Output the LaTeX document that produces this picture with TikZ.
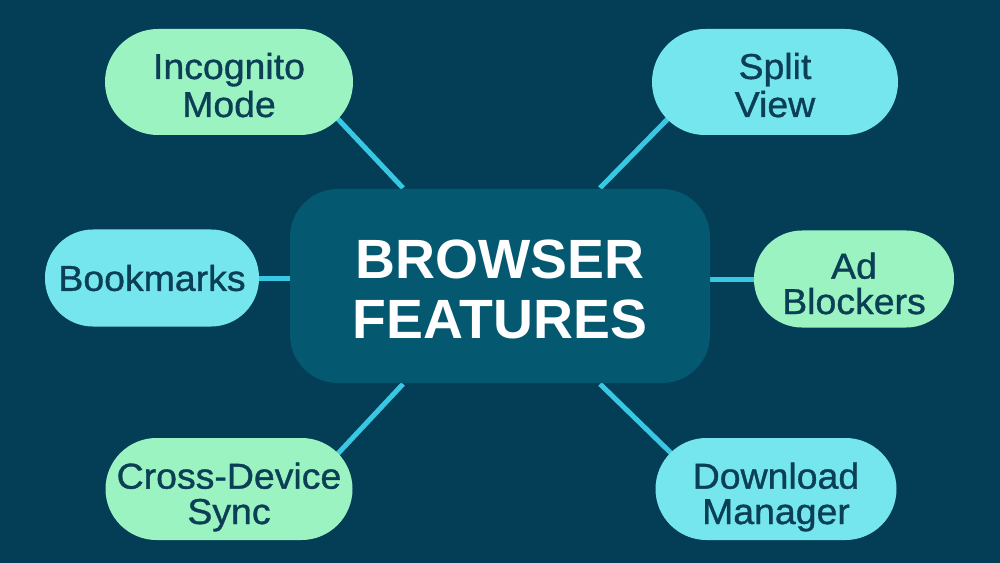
\documentclass[tikz,border=0pt]{standalone}
\usepackage{fontspec}
\setmainfont{Liberation Sans}
\newfontfamily\fntBox[FakeBold=1, FakeStretch=1.04]{Liberation Sans}
\usetikzlibrary{positioning,backgrounds}
\definecolor{clrFond}{HTML}{033E56}
\definecolor{clrCentre}{HTML}{04586F}
\definecolor{clrVert}{HTML}{9CF3C2}
\definecolor{clrCyan}{HTML}{76E6EE}
\definecolor{clrLien}{HTML}{38C8E4}
\definecolor{clrTexte}{HTML}{0B3F55}
\newlength{\unit}
\setlength{\unit}{0.75pt}
\tikzstyle{box_style}=[anchor=center, align=center, text=clrTexte, font=\fontsize{27}{28.5}\fntBox, inner sep=0pt]
\tikzstyle{vert}=[box_style, fill=clrVert]
\tikzstyle{cyan_box}=[box_style, fill=clrCyan]
\tikzstyle{two_lines}=[text height=70\unit, text depth=0pt]
\tikzstyle{tight}=[font=\fontsize{27}{26.5}\fntBox]
\tikzstyle{central}=[fill=clrCentre, rounded corners=48\unit, anchor=center, align=center, text=white, font=\fontsize{41.5}{44.5}\selectfont\bfseries, minimum width=420\unit, minimum height=194\unit, inner sep=0pt, text height=104\unit, text depth=0pt]
\tikzstyle{line}=[clrLien, line width=3.75pt]
\tikzstyle{diag}=[line, shorten >=-26\unit]
\begin{document}
\begin{tikzpicture}[x=\unit, y=-\unit]
	\useasboundingbox (0,0) rectangle (1000,563);

	\node[central] (C) at (500,286) {BROWSER\\FEATURES};

	\node[vert, two_lines, minimum width=248\unit, minimum height=106\unit, rounded corners=53\unit] (A) at (229,82) {Incognito\\Mode};
	\node[cyan_box, two_lines, minimum width=246\unit, minimum height=106\unit, rounded corners=53\unit] (B) at (775,82) {Split\\View};
	\node[cyan_box, minimum width=214\unit, minimum height=97\unit, rounded corners=48\unit] (D) at (152,278) {Bookmarks};
	\node[vert, two_lines, tight, minimum width=200\unit, minimum height=97\unit, rounded corners=48\unit] (E) at (854,279) {Ad\\Blockers};
	\node[vert, two_lines, tight, minimum width=247\unit, minimum height=102\unit, rounded corners=51\unit] (F) at (229,489) {Cross-Device\\Sync};
	\node[cyan_box, two_lines, tight, minimum width=241\unit, minimum height=102\unit, rounded corners=51\unit] (G) at (776,489) {Download\\Manager};

	\coordinate (a1) at (403,188);
	\coordinate (a2) at (600,188);
	\coordinate (a3) at (403,384);
	\coordinate (a4) at (600,384);
	\begin{scope}[on background layer]
		\fill[clrFond] (0,0) rectangle (1000,563);
		\draw[diag] (a1) -- (A.south east);
		\draw[diag] (a2) -- (B.south west);
		\draw[diag] (a3) -- (F.north east);
		\draw[diag] (a4) -- (G.north west);
		\draw[line] (D.east) -- (D -| C.west);
		\draw[line] (E.west) -- (E -| C.east);
	\end{scope}
\end{tikzpicture}
\end{document}
